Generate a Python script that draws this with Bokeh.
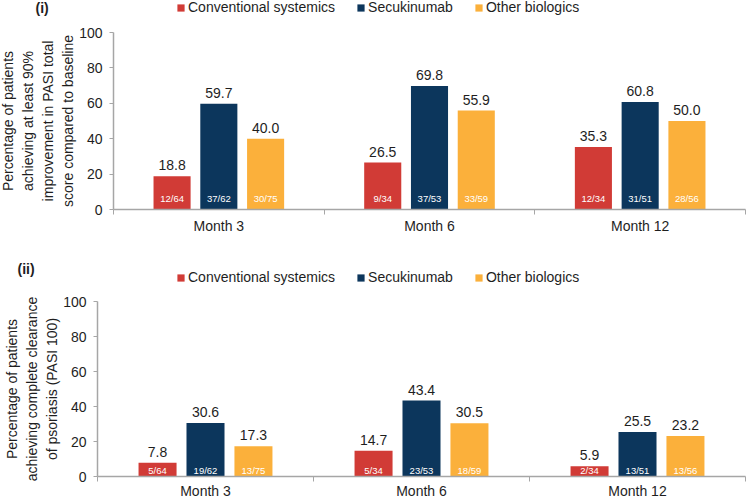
import numpy as np
from bokeh.plotting import figure
from bokeh.models import (Range1d, LinearAxis, FixedTicker, ColumnDataSource,
                          LabelSet, Label, Legend, LegendItem)
from bokeh.core.properties import value
from bokeh.layouts import column
from bokeh.embed import file_html
from bokeh.resources import INLINE

# ---------------- data ----------------
months = ["Month 3", "Month 6", "Month 12"]
series = ["Conventional systemics", "Secukinumab", "Other biologics"]
colors = ["#D13B36", "#0C365C", "#FBB03B"]

pasi90_conv = [18.8, 26.5, 35.3]
pasi90_secu = [59.7, 69.8, 60.8]
pasi90_other = [40.0, 55.9, 50.0]
pasi90_conv_n = ["12/64", "9/34", "12/34"]
pasi90_secu_n = ["37/62", "37/53", "31/51"]
pasi90_other_n = ["30/75", "33/59", "28/56"]

pasi100_conv = [7.8, 14.7, 5.9]
pasi100_secu = [30.6, 43.4, 25.5]
pasi100_other = [17.3, 30.5, 23.2]
pasi100_conv_n = ["5/64", "5/34", "2/34"]
pasi100_secu_n = ["19/62", "23/53", "13/51"]
pasi100_other_n = ["13/75", "18/59", "13/56"]

y_ticks = [0, 20, 40, 60, 80, 100]

ylabel_i = ("Percentage of patients\nachieving at least 90%\n"
            "improvement in PASI total\nscore compared to baseline")
ylabel_ii = ("Percentage of patients\nachieving complete clearance\n"
             "of psoriasis (PASI 100)")

FONT = "Liberation Sans"
AXIS_GREY = "#A6A6A6"
TEXT = "#1E1E1E"


def make_panel(tag, ylabel, vals, counts, W, H, ax_left, ax_right, y0_px, y100_px,
               tag_px, legend_px, count_off, xlabel_standoff):
    n = len(months)
    ppx = (ax_right - ax_left) / n
    ppy = (y0_px - y100_px) / 100.0
    xr = Range1d(-ax_left / ppx, n + (W - ax_right) / ppx)
    yr = Range1d(-(H - y0_px) / ppy, 100 + y100_px / ppy)

    p = figure(width=W, height=H, x_range=xr, y_range=yr,
               output_backend="svg", toolbar_location=None,
               x_axis_type=None, y_axis_type=None, title=None,
               min_border=0)
    p.outline_line_color = None
    p.background_fill_color = "white"

    centers = np.arange(n) + 0.5
    bounds = np.arange(n + 1).astype(float)

    xaxis = LinearAxis(ticker=FixedTicker(ticks=list(centers), minor_ticks=list(bounds)),
                       fixed_location=0, bounds=(0, n))
    xaxis.major_label_overrides = {float(c): m for c, m in zip(centers, months)}
    xaxis.major_tick_out = 0
    xaxis.major_tick_in = 0
    xaxis.minor_tick_out = 5
    xaxis.minor_tick_in = 0
    xaxis.minor_tick_line_color = AXIS_GREY
    xaxis.axis_line_color = AXIS_GREY
    xaxis.axis_line_width = 1.5
    xaxis.major_label_standoff = xlabel_standoff
    xaxis.major_label_text_font = FONT
    xaxis.major_label_text_font_size = "14px"
    xaxis.major_label_text_color = TEXT
    p.add_layout(xaxis, "below")

    yaxis = LinearAxis(ticker=FixedTicker(ticks=y_ticks), axis_label=ylabel,
                       fixed_location=0, bounds=(0, 100))
    yaxis.major_tick_out = 4
    yaxis.major_tick_in = 0
    yaxis.minor_tick_out = 0
    yaxis.minor_tick_in = 0
    yaxis.major_tick_line_color = AXIS_GREY
    yaxis.axis_line_color = AXIS_GREY
    yaxis.axis_line_width = 1.5
    yaxis.major_label_standoff = 7
    yaxis.major_label_text_font = FONT
    yaxis.major_label_text_font_size = "14px"
    yaxis.major_label_text_color = TEXT
    yaxis.axis_label_standoff = 0
    yaxis.axis_label_text_font = FONT
    yaxis.axis_label_text_font_size = "14px"
    yaxis.axis_label_text_font_style = "normal"
    yaxis.axis_label_text_color = TEXT
    yaxis.axis_label_text_line_height = 1.25
    p.add_layout(yaxis, "left")

    offsets = [-0.222, 0.0, 0.222]
    items = []
    for k, (name, col) in enumerate(zip(series, colors)):
        v = vals[k]
        src = ColumnDataSource(dict(
            x=centers + offsets[k], top=v,
            val=[f"{t:.1f}" for t in v], n=counts[k]))
        r = p.vbar(x="x", top="top", bottom=0, width=0.176, source=src,
                   fill_color=col, line_color=None)
        items.append(LegendItem(label=name, renderers=[r]))
        p.add_layout(LabelSet(x="x", y="top", text="val", source=src,
                              text_align="center", text_baseline="alphabetic",
                              y_offset=6, text_font=value(FONT),
                              text_font_size="14px", text_color=TEXT))
        p.add_layout(LabelSet(x="x", y=0, text="n", source=src,
                              text_align="center", text_baseline="middle",
                              y_offset=count_off, text_font=value(FONT),
                              text_font_size="9.5px", text_color="white"))

    legend = Legend(items=items, orientation="horizontal",
                    location=(legend_px[0], H - legend_px[1]))
    legend.border_line_color = None
    legend.background_fill_alpha = 0
    legend.padding = 0
    legend.margin = 0
    legend.spacing = 21
    legend.glyph_width = 9
    legend.glyph_height = 9
    legend.label_standoff = 3
    legend.label_height = 16
    legend.label_text_font = FONT
    legend.label_text_font_size = "14px"
    legend.label_text_color = TEXT
    p.add_layout(legend)

    p.add_layout(Label(x=(tag_px[0] - ax_left) / ppx, y=(y0_px - tag_px[1]) / ppy,
                       text=tag, text_font=FONT, text_font_size="14px",
                       text_font_style="bold", text_color=TEXT,
                       text_baseline="middle", text_align="left"))
    return p


p1 = make_panel("(i)", ylabel_i,
                [pasi90_conv, pasi90_secu, pasi90_other],
                [pasi90_conv_n, pasi90_secu_n, pasi90_other_n],
                W=746, H=250, ax_left=113, ax_right=745, y0_px=209, y100_px=32,
                tag_px=(35, 7), legend_px=(176, 15), count_off=11,
                xlabel_standoff=3)
p2 = make_panel("(ii)", ylabel_ii,
                [pasi100_conv, pasi100_secu, pasi100_other],
                [pasi100_conv_n, pasi100_secu_n, pasi100_other_n],
                W=746, H=252, ax_left=97, ax_right=745, y0_px=226, y100_px=51,
                tag_px=(17, 18), legend_px=(176, 35), count_off=6,
                xlabel_standoff=1)

layout = column(p1, p2, spacing=0)
open("out.html", "w").write(file_html(layout, INLINE))
